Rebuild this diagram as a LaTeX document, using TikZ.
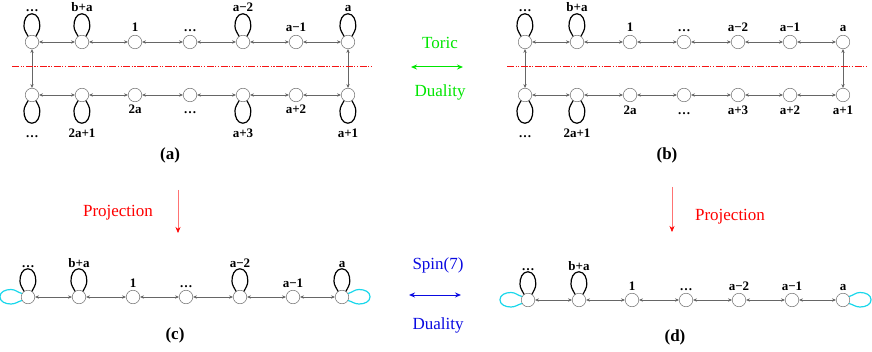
\documentclass[tikz,border=0pt]{standalone}
\usepackage{fontspec}
\setmainfont{Liberation Serif}
\usetikzlibrary{arrows.meta,positioning}
\definecolor{toric}{RGB}{0,230,0}
\definecolor{spin}{RGB}{10,10,225}
\definecolor{aqua}{RGB}{25,215,235}
\definecolor{mirror}{RGB}{245,20,20}
\tikzset{
  >={Stealth[length=4pt,width=3.4pt]},
  quiv/.style={circle,draw=black!55,fill=white,line width=0.5pt,minimum size=13.5pt,inner sep=0pt},
  lbl/.style={font=\fontsize{13}{15}\selectfont\bfseries,inner sep=0pt,anchor=base},
  bond/.style={<->,draw=black!60,line width=0.55pt},
  selfloop/.style={draw=black,line width=1.2pt},
  spinloop/.style={draw=aqua,line width=1.2pt},
  divider/.style={draw=mirror,line width=1pt,dash pattern=on 7pt off 1.5pt on 1.2pt off 1.5pt on 1.2pt off 1.5pt},
  duality/.style={{Stealth[length=6pt,width=5pt]}-{Stealth[length=6pt,width=5pt]},line width=1pt,draw=#1},
  word/.style={font=\fontsize{17}{20}\selectfont,text=#1},
  proj/.style={-{Stealth[length=6pt,width=5pt,color=red]},draw=red!55,line width=0.6pt},
  caption/.style={font=\fontsize{17}{20}\selectfont\bfseries},
}
% adjoint loops on a gauge node
\newcommand\uploop[1]{\draw[selfloop] (#1.125) to[out=115,in=-88] ++(-4,10) to[out=92,in=180] ++(7.9,12.5)
  to[out=0,in=88] ++(7.9,-12.5) to[out=-92,in=65] (#1.55);}
\newcommand\downloop[1]{\draw[selfloop] (#1.-125) to[out=-115,in=88] ++(-4,-10) to[out=-92,in=180] ++(7.9,-12.5)
  to[out=0,in=-88] ++(7.9,12.5) to[out=92,in=-65] (#1.-55);}
\newcommand\leftloop[1]{\draw[spinloop] (#1.150) to[out=165,in=0] ++(-11,4) to[out=180,in=90] ++(-11,-7.25)
  to[out=-90,in=180] ++(11,-7.25) to[out=0,in=195] (#1.210);}
\newcommand\rightloop[1]{\draw[spinloop] (#1.30) to[out=15,in=180] ++(11,4) to[out=0,in=90] ++(11,-7.25)
  to[out=-90,in=0] ++(-11,-7.25) to[out=180,in=-15] (#1.-30);}

\begin{document}
\begin{tikzpicture}[x=1pt,y=1pt]
  \useasboundingbox (0,0) rectangle (872,351);
  % (a): upper and lower chains
  \foreach \x/\t/\lp [count=\i] in {32/{\ldots}/1,82/b+a/1,135/1/0,190/{\ldots}/0,243/a−2/1,296/a−1/0,348/a/1}{
    \node[quiv] (at\i) at (\x,309) {};
    \ifnum\lp=1 \uploop{at\i} \fi
    \node[lbl] (lat\i) at ([yshift={10pt+\lp*20pt}]at\i.center) {\t};
  }
  \foreach \x/\t/\lp [count=\i] in {32/{\ldots}/1,82/2a+1/1,135/2a/0,190/{\ldots}/0,243/a+3/1,296/a+2/0,348/a+1/1}{
    \node[quiv] (ab\i) at (\x,256) {};
    \ifnum\lp=1 \downloop{ab\i} \fi
    \node[lbl] (lab\i) at ([yshift={-19pt-\lp*24pt}]ab\i.center) {\t};
  }
  \foreach \i in {1,...,6}{
    \pgfmathtruncatemacro\j{\i+1}
    \draw[bond] (at\i) -- (at\j);
    \draw[bond] (ab\i) -- (ab\j);
  }
  \draw[bond] (at1) -- (ab1);
  \draw[bond] (at7) -- (ab7);
  \coordinate (cutal) at (12,284);
  \coordinate (cutar) at (372,284);
  \draw[divider] (cutal) -- (cutar);
  \node[caption] (capa) at (170,196) {(a)};

  % (b)
  \foreach \x/\t/\lp [count=\i] in {525/{\ldots}/1,577/b+a/1,630/1/0,684/{\ldots}/0,738/a−2/0,790/a−1/0,843/a/0}{
    \node[quiv] (bt\i) at (\x,309) {};
    \ifnum\lp=1 \uploop{bt\i} \fi
    \node[lbl] (lbt\i) at ([yshift={10pt+\lp*20pt}]bt\i.center) {\t};
  }
  \foreach \x/\t/\lp [count=\i] in {525/{\ldots}/1,577/2a+1/1,630/2a/0,684/{\ldots}/0,738/a+3/0,790/a+2/0,843/a+1/0}{
    \node[quiv] (bb\i) at (\x,256) {};
    \ifnum\lp=1 \downloop{bb\i} \fi
    \node[lbl] (lbb\i) at ([yshift={-20pt-\lp*23pt}]bb\i.center) {\t};
  }
  \foreach \i in {1,...,6}{
    \pgfmathtruncatemacro\j{\i+1}
    \draw[bond] (bt\i) -- (bt\j);
    \draw[bond] (bb\i) -- (bb\j);
  }
  \draw[bond] (bt1) -- (bb1);
  \draw[bond] (bt7) -- (bb7);
  \coordinate (cutbl) at (507,284);
  \coordinate (cutbr) at (867,284);
  \draw[divider] (cutbl) -- (cutbr);
  \node[caption] (capb) at (667,196) {(b)};

  % toric duality
  \node[word=toric] (torictxt) at (440,308) {Toric};
  \node[word=toric] (toricdual) at (440,259) {Duality};
  \coordinate (tl) at (411,284);
  \coordinate (tr) at (463,284);
  \draw[duality=toric] (tl) -- (tr);

  % (c)
  \foreach \x/\t/\lp [count=\i] in {28/{\ldots}/1,79/b+a/1,133/1/0,186/{\ldots}/0,240/a−2/1,293/a−1/0,342/a/1}{
    \node[quiv] (c\i) at (\x,54) {};
    \ifnum\lp=1 \uploop{c\i} \fi
    \node[lbl] (lc\i) at ([yshift={10pt+\lp*20pt}]c\i.center) {\t};
  }
  \foreach \i in {1,...,6}{
    \pgfmathtruncatemacro\j{\i+1}
    \draw[bond] (c\i) -- (c\j);
  }
  \leftloop{c1}
  \rightloop{c7}
  \node[caption] (capc) at (175,16) {(c)};
  \coordinate (pcs) at (178,161);
  \coordinate (pce) at (178,118);
  \draw[proj] (pcs) -- (pce);
  \node[word=red] (projc) at (118,138) {Projection};

  % (d)
  \foreach \x/\t/\lp [count=\i] in {528/{\ldots}/1,579/b+a/1,632/1/0,686/{\ldots}/0,739/a−2/0,792/a−1/0,843/a/0}{
    \node[quiv] (d\i) at (\x,51) {};
    \ifnum\lp=1 \uploop{d\i} \fi
    \node[lbl] (ld\i) at ([yshift={10pt+\lp*20pt}]d\i.center) {\t};
  }
  \foreach \i in {1,...,6}{
    \pgfmathtruncatemacro\j{\i+1}
    \draw[bond] (d\i) -- (d\j);
  }
  \leftloop{d1}
  \rightloop{d7}
  \node[caption] (capd) at (675,14) {(d)};
  \coordinate (pds) at (672,164);
  \coordinate (pde) at (672,119);
  \draw[proj] (pds) -- (pde);
  \node[word=red] (projd) at (730,134) {Projection};

  % spin(7) duality
  \node[word=spin] (spintxt) at (438,86) {Spin(7)};
  \node[word=spin] (spindual) at (438,26) {Duality};
  \coordinate (sl) at (409,56);
  \coordinate (sr) at (461,56);
  \draw[duality=spin] (sl) -- (sr);
\end{tikzpicture}
\end{document}
